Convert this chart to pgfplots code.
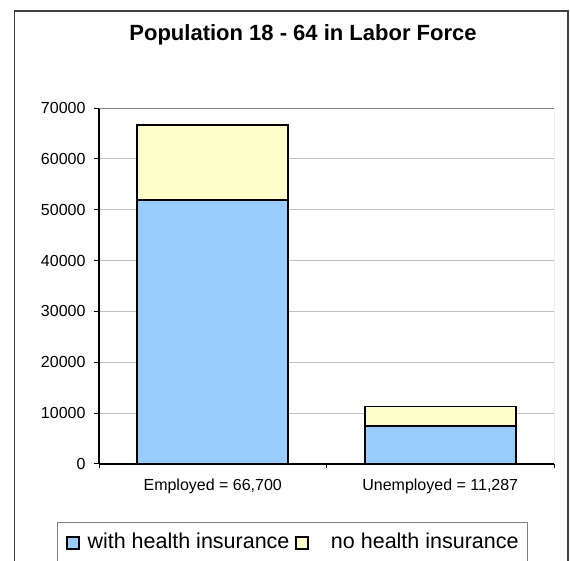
\documentclass[border=0pt]{standalone}
\usepackage{fontspec}
\setmainfont{Liberation Sans}
\usepackage{pgfplots}
\pgfplotsset{compat=1.18}
\definecolor{withins}{HTML}{99CCFF}
\definecolor{noins}{HTML}{FFFFCC}
\definecolor{framec}{HTML}{404040}
\definecolor{gridc}{HTML}{C0C0C0}

\begin{document}
\begin{tikzpicture}
\useasboundingbox (0,0) rectangle (570bp,561bp);
% outer chart frame (runs off the bottom edge)
\draw[framec, line width=1.5bp] (14.5bp,-10bp) -- (14.5bp,550bp) -- (568bp,550bp) -- (568bp,-10bp);
\node[anchor=base, font=\fontsize{22bp}{26bp}\selectfont\bfseries] at (303bp,520.3bp)
  {Population 18 - 64 in Labor Force};
\begin{axis}[
    at={(99bp,97bp)}, anchor=south west,
    scale only axis, width=455bp, height=356bp,
    ybar stacked, bar width=151bp,
    xmin=-0.5, xmax=1.5,
    ymin=0, ymax=70000,
    ytick={0,10000,...,70000},
    scaled y ticks=false,
    xtick={0,1},
    xticklabels={{Employed = 66,700},{Unemployed = 11,287}},
    minor xtick={-0.5,0.5,1.5},
    major x tick style={draw=none},
    axis x line*=bottom, axis y line*=left,
    axis line style={-, black, line width=1.2bp},
    tick align=outside,
    tick style={black, line width=1bp},
    major tick length=5bp, minor tick length=4bp,
    ymajorgrids, grid style={gridc, line width=0.8bp},
    /pgf/number format/1000 sep={},
    /pgf/number format/assume math mode=true,
    tick label style={font=\fontsize{16bp}{19bp}\selectfont},
    yticklabel style={xshift=-5bp},
    xticklabel style={yshift=-6bp},
    every axis plot post/.append style={line width=1.8bp},
    legend columns=2,
    legend style={
        at={(axis description cs:-0.0934,-0.162)}, anchor=north west,
        draw=gray, line width=1bp,
        font=\fontsize{21.5bp}{25bp}\selectfont,
        inner xsep=9bp, inner ysep=10.3bp,
        nodes={inner xsep=0bp, inner ysep=0bp, text height=16bp, text depth=20bp},
        /tikz/every odd column/.append style={column sep=8bp},
        /tikz/every even column/.append style={column sep=6bp},
    },
    legend image code/.code={\draw[#1, line width=1.5bp] (0bp,1.5bp) rectangle (12bp,13.5bp);},
]
\addplot[fill=withins, draw=black] coordinates {(0,51900) (1,7500)};
\addlegendentry{with health insurance}
\addplot[fill=noins, draw=black] coordinates {(0,14800) (1,3787)};
\addlegendentry{\hspace*{14bp}no health insurance}
\draw[gray, line width=1bp] (rel axis cs:0,1) -- (rel axis cs:1,1) -- (rel axis cs:1,0);
\end{axis}
\end{tikzpicture}
\end{document}
